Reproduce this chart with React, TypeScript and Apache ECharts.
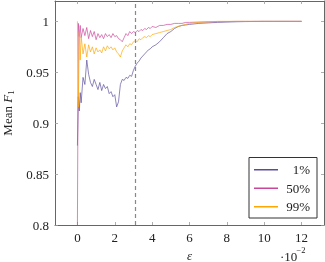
import React, { useEffect, useRef } from "react";
import * as echarts from "echarts";

// epsilon in units of 1e-2
const epsilon = [
  0, 0.05, 0.1, 0.15, 0.2, 0.3, 0.4, 0.5, 0.6, 0.7, 0.8, 0.9, 1.0, 1.1, 1.2, 1.3, 1.4, 1.5, 1.6, 1.7,
  1.8, 1.9, 2.0, 2.1, 2.2, 2.3, 2.4, 2.5, 2.6, 2.7, 2.8, 2.9, 3.0, 3.1, 3.2, 3.3, 3.4, 3.5, 3.6, 3.7,
  3.8, 3.9, 4.0, 4.2, 4.4, 4.6, 4.8, 5.0, 5.2, 5.4, 5.6, 5.8, 6.0, 6.5, 7.0, 7.5, 8.0, 8.5, 9.0, 9.5,
  10, 10.5, 11, 11.5, 12,
];

const f1Pct1 = [
  0.878, 0.926, 0.912, 0.93, 0.92, 0.945, 0.938, 0.962, 0.948, 0.94, 0.936, 0.943, 0.938, 0.933, 0.94, 0.932, 0.938, 0.934, 0.936, 0.929,
  0.931, 0.926, 0.928, 0.916, 0.921, 0.938, 0.943, 0.942, 0.945, 0.944, 0.947, 0.946, 0.952, 0.956, 0.959, 0.961, 0.964, 0.966, 0.968, 0.97,
  0.972, 0.973, 0.975, 0.977, 0.98, 0.984, 0.988, 0.99, 0.993, 0.995, 0.996, 0.9965, 0.997, 0.998, 0.9985, 0.999, 0.9993, 0.9996, 0.9998, 0.9999,
  1, 1, 1, 1, 1,
];

const f1Pct50 = [
  0.8, 0.998, 0.985, 0.996, 0.984, 0.993, 0.986, 0.994, 0.983, 0.991, 0.985, 0.99, 0.982, 0.988, 0.984, 0.987, 0.983, 0.988, 0.985, 0.987,
  0.984, 0.988, 0.985, 0.986, 0.983, 0.982, 0.98, 0.984, 0.988, 0.986, 0.99, 0.988, 0.99, 0.989, 0.991, 0.99, 0.992, 0.991, 0.993, 0.992,
  0.994, 0.993, 0.995, 0.994, 0.996, 0.996, 0.997, 0.997, 0.998, 0.998, 0.998, 0.999, 0.999, 0.9993, 0.9995, 0.9997, 0.9998, 1, 1, 1,
  1, 1, 1, 1, 1,
];

const f1Pct99 = [
  1.0, 0.916, 0.99, 0.962, 0.985, 0.968, 0.978, 0.965, 0.977, 0.97, 0.975, 0.968, 0.974, 0.97, 0.972, 0.969, 0.975, 0.971, 0.976, 0.973,
  0.975, 0.972, 0.974, 0.97, 0.968, 0.965, 0.971, 0.974, 0.977, 0.975, 0.978, 0.977, 0.98, 0.981, 0.98, 0.983, 0.982, 0.984, 0.985, 0.984,
  0.986, 0.985, 0.987, 0.988, 0.989, 0.99, 0.991, 0.992, 0.994, 0.995, 0.996, 0.997, 0.998, 0.999, 0.9995, 1, 1, 1, 1, 1,
  1, 1, 1, 1, 1,
];

const seriesNames = ["1%", "50%", "99%"];
const xTicks = [0, 2, 4, 6, 8, 10, 12];
const yTicks = [0.8, 0.85, 0.9, 0.95, 1];
const thresholdEps = 3.1;

const FONT = "Liberation Serif";
const AXIS = "#666";
const TEXT = "#222";

export default function App() {
  const ref = useRef<HTMLDivElement>(null);
  useEffect(() => {
    const chart = echarts.init(ref.current!, null, { renderer: "svg" });
    const colors = ["#5a4b9c", "#c9479a", "#ffa600"];
    const datasets = [f1Pct1, f1Pct50, f1Pct99];
    const axisCommon = {
      type: "value" as const,
      axisLine: { show: true, onZero: false, lineStyle: { color: AXIS, width: 1 } },
      axisTick: { show: true, inside: true, length: 3, lineStyle: { color: "#999", width: 0.8 } },
      splitLine: { show: false },
    };
    chart.setOption({
      animation: false,
      textStyle: { fontFamily: FONT },
      grid: { left: 55, right: 1, top: 1, bottom: 37, containLabel: false, outerBoundsMode: "none" },
      xAxis: [
        {
          ...axisCommon,
          min: -1.2,
          max: 13.2,
          axisTick: { ...axisCommon.axisTick, customValues: xTicks },
          axisLabel: { customValues: xTicks, color: TEXT, fontSize: 13, fontFamily: FONT, margin: 6 },
          name: "ε",
          nameLocation: "middle",
          nameGap: 19,
          nameTextStyle: { color: TEXT, fontSize: 13, fontStyle: "italic", fontFamily: FONT },
        },
        {
          ...axisCommon,
          position: "top",
          min: -1.2,
          max: 13.2,
          axisTick: { ...axisCommon.axisTick, customValues: xTicks },
          axisLabel: { show: false, customValues: xTicks },
        },
      ],
      yAxis: [
        {
          ...axisCommon,
          min: 0.8,
          max: 1.02,
          axisTick: { ...axisCommon.axisTick, customValues: yTicks },
          axisLabel: {
            customValues: yTicks,
            color: TEXT,
            fontSize: 13,
            fontFamily: FONT,
            margin: 6,
            formatter: (v: number) => String(Number(v.toFixed(2))),
          },
          name: "{a|Mean }{b|F}{c|1}",
          nameLocation: "middle",
          nameGap: 40,
          nameTextStyle: {
            color: TEXT,
            fontSize: 13,
            fontFamily: FONT,
            rich: {
              a: { fontSize: 13, fontFamily: FONT, color: TEXT },
              b: { fontSize: 13, fontFamily: FONT, fontStyle: "italic", color: TEXT },
              c: { fontSize: 9, fontFamily: FONT, color: TEXT, padding: [6, 0, 0, 0] },
            },
          },
        },
        {
          ...axisCommon,
          position: "right",
          min: 0.8,
          max: 1.02,
          axisTick: { ...axisCommon.axisTick, customValues: yTicks },
          axisLabel: { show: false, customValues: yTicks },
        },
      ],
      legend: {
        right: 8,
        bottom: 44,
        orient: "vertical",
        backgroundColor: "#fff",
        borderColor: "#333",
        borderWidth: 1,
        borderRadius: 0,
        padding: [5, 7, 4, 5],
        itemGap: 4,
        itemWidth: 24,
        itemHeight: 1.5,
        icon: "rect",
        data: seriesNames,
        formatter: "{r|{name}}",
        textStyle: {
          color: TEXT,
          fontSize: 13,
          fontFamily: FONT,
          lineHeight: 14.5,
          rich: { r: { width: 27, align: "right", fontSize: 13, fontFamily: FONT, color: TEXT, lineHeight: 14.5 } },
        },
      },
      graphic: [
        {
          type: "text",
          x: 280,
          y: 256,
          style: { text: "·10", fontSize: 13, fontFamily: FONT, fill: TEXT, verticalAlign: "middle" },
        },
        {
          type: "text",
          x: 296.5,
          y: 249.5,
          style: { text: "−2", fontSize: 8.5, fontFamily: FONT, fill: TEXT, verticalAlign: "middle" },
        },
      ],
      series: datasets.map((vals, i) => ({
        name: seriesNames[i],
        type: "line",
        data: epsilon.map((x, j) => [x, vals[j]]),
        showSymbol: false,
        symbol: "none",
        z: 2 + i,
        lineStyle: { width: 0.8, color: colors[i], opacity: 0.85 },
        itemStyle: { color: colors[i] },
        ...(i === 0
          ? {
              markLine: {
                silent: true,
                symbol: "none",
                label: { show: false },
                lineStyle: { color: "#888", type: [4, 3], width: 1.2 },
                data: [{ xAxis: thresholdEps }],
              },
            }
          : {}),
      })),
    });
    return () => chart.dispose();
  }, []);
  return <div ref={ref} style={{ position: "fixed", left: 0, top: 0, width: 325, height: 262 }} />;
}
